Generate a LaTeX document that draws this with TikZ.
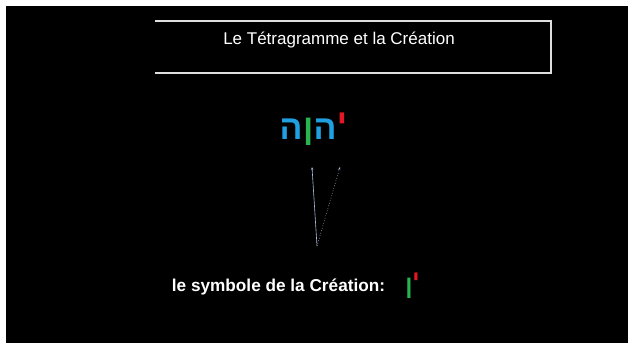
\documentclass[tikz,border=0pt]{standalone}
\usepackage{fontspec}
\setmainfont{Liberation Sans}
\newfontfamily\hebfont[Script=Hebrew]{Liberation Sans}
\usetikzlibrary{arrows.meta,positioning}
\definecolor{hebblue}{RGB}{30,160,225}
\definecolor{hebgreen}{RGB}{40,180,80}
\definecolor{hebred}{RGB}{225,25,35}
\definecolor{ptrgray}{RGB}{175,190,220}

\begin{document}
\begin{tikzpicture}[x=1pt,y=-1pt,
  letter/.style={font=\hebfont\bfseries\fontsize{34}{34}\selectfont,inner sep=0pt,anchor=base},
  smallletter/.style={font=\hebfont\bfseries\fontsize{24}{24}\selectfont,inner sep=0pt,anchor=base},
  ptr/.style={ptrgray,line width=0.6pt,-{Stealth[length=3pt,width=2.2pt]}}]
\useasboundingbox (0,0) rectangle (628,343);
\fill[white] (0,0) rectangle (628,343);
\fill[black] (6,6) rectangle (628,343);
\draw[white!75!gray,line width=1.2pt] (155,21) -- (551,21) -- (551,73) -- (155,73);
\node[text=white,font=\fontsize{17}{17}\selectfont] (title) at (339,40) {Le Tétragramme et la Création};
\node[letter,text=hebblue] (he1) at (291,139) {ה};
\node[letter,text=hebgreen] (vav) at (308.5,145) {\scalebox{1}[1.33]{ו}};
\node[letter,text=hebblue] (he2) at (325,139) {ה};
\node[letter,text=hebred] (yod) at (342,133) {י};
\coordinate (src) at (317,246);
\coordinate (tipv) at (312,167);
\coordinate (tipy) at (340,167);
\draw[ptr] (src) -- (tipv);
\draw[ptr,dotted] (src) -- (tipy);
\node[text=white,font=\bfseries\fontsize{17.2}{17.2}\selectfont] (label) at (278.5,287) {le symbole de la Création:};
\node[smallletter,text=hebgreen] (vav2) at (409,298) {\scalebox{1}[1.4]{ו}};
\node[smallletter,text=hebred] (yod2) at (416,287) {י};
\end{tikzpicture}
\end{document}
